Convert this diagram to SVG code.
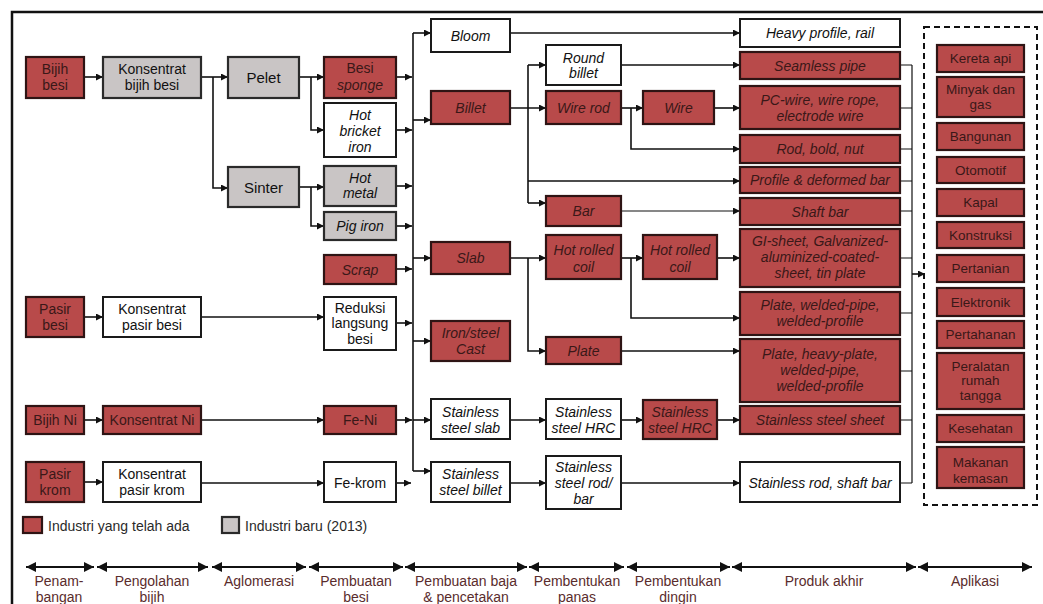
<svg xmlns="http://www.w3.org/2000/svg" width="1043" height="604" viewBox="0 0 1043 604">
<style>
.r{fill:#b84a4a;stroke:#2e1414;stroke-width:2.2}
.g{fill:#c9c5c5;stroke:#2a2a2a;stroke-width:2.2}
.w{fill:#fff;stroke:#1a1a1a;stroke-width:2}
text{font-family:"Liberation Sans",Arial,sans-serif;font-size:14px;text-anchor:middle;fill:#111}
.rt{fill:#3a1818}
.i{font-style:italic}
.ap{font-size:13.5px}
.lab{font-size:14px;fill:#5a2c2c}
.c path{fill:none;stroke:#111;stroke-width:1.6}
.c path.a{marker-end:url(#ah)}
.tl path{fill:none;stroke:#111;stroke-width:2;marker-start:url(#tb);marker-end:url(#tb)}
</style>
<defs>
<marker id="ah" markerUnits="userSpaceOnUse" markerWidth="8" markerHeight="8" refX="7" refY="3.5" orient="auto"><path d="M0,0 L7,3.5 L0,7 z" fill="#111"/></marker>
<marker id="tb" markerUnits="userSpaceOnUse" markerWidth="11" markerHeight="11" refX="10" refY="5" orient="auto-start-reverse"><path d="M0,0 L10,5 L0,10 z" fill="#111"/></marker>
</defs>
<rect width="1043" height="604" fill="#fff"/>
<path d="M12,604 V12 H1043" fill="none" stroke="#111" stroke-width="2.5"/>

<g class="c" id="connectors">
<path class="a" d="M84,77 H103"/>
<path class="a" d="M201,77 H228"/>
<path class="a" d="M213,77 V188 H228"/>
<path class="a" d="M299,77 H324"/>
<path class="a" d="M311,77 V130 H324"/>
<path class="a" d="M299,187 H324"/>
<path class="a" d="M311,187 V226 H324"/>
<path class="a" d="M84,317 H103"/>
<path class="a" d="M201,317 H324"/>
<path class="a" d="M84,420 H103"/>
<path class="a" d="M201,420 H324"/>
<path class="a" d="M84,482 H103"/>
<path class="a" d="M201,483 H324"/>
<path class="a" d="M396,77 H412"/>
<path class="a" d="M396,130 H412"/>
<path class="a" d="M396,186 H412"/>
<path class="a" d="M396,226 H412"/>
<path class="a" d="M396,269 H412"/>
<path class="a" d="M396,323 H412"/>
<path class="a" d="M396,420 H412"/>
<path class="a" d="M396,483 H411"/>
<path d="M413,33 V471"/>
<path class="a" d="M413,33 H431"/>
<path class="a" d="M413,120 H431"/>
<path class="a" d="M413,258 H431"/>
<path class="a" d="M413,341 H431"/>
<path class="a" d="M413,420 H431"/>
<path class="a" d="M413,471 H431"/>
<path class="a" d="M510,33 H740"/>
<path class="a" d="M510,108 H546"/>
<path d="M528,65 V203"/>
<path class="a" d="M528,65 H546"/>
<path class="a" d="M528,181 H740"/>
<path class="a" d="M528,203 H546"/>
<path class="a" d="M621,65 H740"/>
<path class="a" d="M621,108 H643"/>
<path class="a" d="M631,108 V149 H740"/>
<path class="a" d="M714,108 H740"/>
<path class="a" d="M621,211 H740" style="stroke-width:1.1"/>
<path class="a" d="M510,258 H546"/>
<path class="a" d="M528,258 V351 H546"/>
<path class="a" d="M621,258 H643"/>
<path class="a" d="M631,258 V318 H740"/>
<path class="a" d="M717,258 H740"/>
<path class="a" d="M621,351 H740"/>
<path class="a" d="M510,420 H546"/>
<path class="a" d="M621,420 H643"/>
<path class="a" d="M717,420 H740"/>
<path class="a" d="M510,483 H546"/>
<path class="a" d="M621,483 H740"/>
<path d="M900,65 H912 M900,108 H912 M900,149 H912 M900,181 H912 M900,211 H912 M900,258 H912 M900,313 H912 M900,371 H912 M900,420 H912 M900,483 H912 M912,65 V483" style="stroke-width:1.2"/>
<path class="a" d="M912,274 H925"/>
</g>

<g id="bijih-besi"><rect class="r" x="26" y="57" width="58" height="41"/><text class="rt" x="55" y="74">Bijih</text><text class="rt" x="55" y="90">besi</text></g>
<g id="pasir-besi"><rect class="r" x="26" y="297" width="58" height="40"/><text class="rt" x="55" y="313.5">Pasir</text><text class="rt" x="55" y="329.5">besi</text></g>
<g id="bijih-ni"><rect class="r" x="26" y="406" width="58" height="28"/><text class="rt" x="55" y="425">Bijih Ni</text></g>
<g id="pasir-krom"><rect class="r" x="26" y="462" width="58" height="40"/><text class="rt" x="55" y="478.5">Pasir</text><text class="rt" x="55" y="494.5">krom</text></g>

<g id="konsentrat-bijih-besi"><rect class="g" x="103" y="57" width="98" height="41"/><text x="152" y="73.5">Konsentrat</text><text x="152" y="89.5">bijih besi</text></g>
<g id="konsentrat-pasir-besi"><rect class="w" x="103" y="297" width="98" height="40"/><text x="152" y="313.5">Konsentrat</text><text x="152" y="329.5">pasir besi</text></g>
<g id="konsentrat-ni"><rect class="r" x="103" y="406" width="98" height="28"/><text class="rt" x="152" y="425">Konsentrat Ni</text></g>
<g id="konsentrat-pasir-krom"><rect class="w" x="103" y="462" width="98" height="40"/><text x="152" y="478.5">Konsentrat</text><text x="152" y="494.5">pasir krom</text></g>

<g id="pelet"><rect class="g" x="228" y="57" width="71" height="41"/><text x="263.5" y="82.5" style="font-size:15px">Pelet</text></g>
<g id="sinter"><rect class="g" x="228" y="167" width="71" height="40"/><text x="263.5" y="192.5" style="font-size:15px">Sinter</text></g>

<g id="besi-sponge"><rect class="r" x="324" y="57" width="72" height="41"/><text class="rt" x="360" y="72.5">Besi</text><text class="rt i" x="360" y="89.5">sponge</text></g>
<g id="hot-bricket-iron"><rect class="w" x="324" y="103" width="72" height="54"/><text class="i" x="360" y="119.5">Hot</text><text class="i" x="360" y="135.5">bricket</text><text class="i" x="360" y="151.5">iron</text></g>
<g id="hot-metal"><rect class="g" x="324" y="166" width="72" height="40"/><text class="i" x="360" y="182.5">Hot</text><text class="i" x="360" y="198">metal</text></g>
<g id="pig-iron"><rect class="g" x="324" y="212" width="72" height="28"/><text class="i" x="360" y="231">Pig iron</text></g>
<g id="scrap"><rect class="r" x="324" y="255" width="72" height="29"/><text class="rt i" x="360" y="274.5">Scrap</text></g>
<g id="reduksi"><rect class="w" x="324" y="297" width="72" height="53"/><text x="360" y="312.5">Reduksi</text><text x="360" y="328">langsung</text><text x="360" y="344">besi</text></g>
<g id="fe-ni"><rect class="r" x="324" y="406" width="72" height="28"/><text class="rt" x="360" y="425">Fe-Ni</text></g>
<g id="fe-krom"><rect class="w" x="324" y="462" width="72" height="40"/><text x="360" y="487.5">Fe-krom</text></g>

<g id="bloom"><rect class="w" x="431" y="19" width="79" height="33"/><text class="i" x="470.5" y="40.5">Bloom</text></g>
<g id="billet"><rect class="r" x="431" y="91" width="79" height="33"/><text class="rt i" x="470.5" y="112.5">Billet</text></g>
<g id="slab"><rect class="r" x="431" y="242" width="79" height="32"/><text class="rt i" x="470.5" y="263">Slab</text></g>
<g id="iron-steel-cast"><rect class="r" x="431" y="321" width="79" height="40"/><text class="rt i" x="470.5" y="337.5">Iron/steel</text><text class="rt i" x="470.5" y="354">Cast</text></g>
<g id="ss-slab"><rect class="w" x="431" y="399" width="79" height="40"/><text class="i" x="470.5" y="416.5">Stainless</text><text class="i" x="470.5" y="433">steel slab</text></g>
<g id="ss-billet"><rect class="w" x="431" y="462" width="79" height="40"/><text class="i" x="470.5" y="478.5">Stainless</text><text class="i" x="470.5" y="495">steel billet</text></g>

<g id="round-billet"><rect class="w" x="546" y="45" width="75" height="40"/><text class="i" x="583.5" y="62.5">Round</text><text class="i" x="583.5" y="78">billet</text></g>
<g id="wire-rod"><rect class="r" x="546" y="91" width="75" height="33"/><text class="rt i" x="583.5" y="112.5">Wire rod</text></g>
<g id="bar"><rect class="r" x="546" y="196" width="75" height="30"/><text class="rt i" x="583.5" y="216">Bar</text></g>
<g id="hot-rolled-coil-1"><rect class="r" x="546" y="235" width="75" height="44"/><text class="rt i" x="583.5" y="254.5">Hot rolled</text><text class="rt i" x="583.5" y="271.5">coil</text></g>
<g id="plate"><rect class="r" x="546" y="337" width="75" height="27"/><text class="rt i" x="583.5" y="355.5">Plate</text></g>
<g id="ss-hrc-1"><rect class="w" x="546" y="399" width="75" height="40"/><text class="i" x="583.5" y="416.5">Stainless</text><text class="i" x="583.5" y="433">steel HRC</text></g>
<g id="ss-rod-bar"><rect class="w" x="546" y="456" width="75" height="53"/><text class="i" x="583.5" y="471.5">Stainless</text><text class="i" x="583.5" y="487.5">steel rod/</text><text class="i" x="583.5" y="503.5">bar</text></g>

<g id="wire"><rect class="r" x="643" y="91" width="71" height="33"/><text class="rt i" x="678.5" y="112.5">Wire</text></g>
<g id="hot-rolled-coil-2"><rect class="r" x="643" y="235" width="74" height="44"/><text class="rt i" x="680" y="254.5">Hot rolled</text><text class="rt i" x="680" y="271.5">coil</text></g>
<g id="ss-hrc-2"><rect class="r" x="643" y="400" width="74" height="39"/><text class="rt i" x="680" y="416.5">Stainless</text><text class="rt i" x="680" y="433">steel HRC</text></g>

<g id="heavy-profile"><rect class="w" x="740" y="19" width="160" height="28"/><text class="i" x="820" y="38">Heavy profile, rail</text></g>
<g id="seamless-pipe"><rect class="r" x="740" y="52" width="160" height="27"/><text class="rt i" x="820" y="70.5">Seamless pipe</text></g>
<g id="pc-wire"><rect class="r" x="740" y="86" width="160" height="43"/><text class="rt i" x="820" y="104.5">PC-wire, wire rope,</text><text class="rt i" x="820" y="121">electrode wire</text></g>
<g id="rod-bold-nut"><rect class="r" x="740" y="135" width="160" height="28"/><text class="rt i" x="820" y="154">Rod, bold, nut</text></g>
<g id="profile-deformed"><rect class="r" x="740" y="167" width="160" height="26"/><text class="rt i" x="820" y="185">Profile &amp; deformed bar</text></g>
<g id="shaft-bar"><rect class="r" x="740" y="198" width="160" height="27"/><text class="rt i" x="820" y="216.5">Shaft bar</text></g>
<g id="gi-sheet"><rect class="r" x="740" y="229" width="160" height="58"/><text class="rt i" x="820" y="245.5">GI-sheet, Galvanized-</text><text class="rt i" x="820" y="261.5">aluminized-coated-</text><text class="rt i" x="820" y="277.5">sheet, tin plate</text></g>
<g id="plate-welded"><rect class="r" x="740" y="292" width="160" height="43"/><text class="rt i" x="820" y="309.5">Plate, welded-pipe,</text><text class="rt i" x="820" y="326">welded-profile</text></g>
<g id="plate-heavy"><rect class="r" x="740" y="339" width="160" height="63"/><text class="rt i" x="820" y="358.5">Plate, heavy-plate,</text><text class="rt i" x="820" y="374.5">welded-pipe,</text><text class="rt i" x="820" y="390.5">welded-profile</text></g>
<g id="ss-sheet"><rect class="r" x="740" y="406" width="160" height="28"/><text class="rt i" x="820" y="425">Stainless steel sheet</text></g>
<g id="ss-rod-shaft"><rect class="w" x="740" y="462" width="160" height="40"/><text class="i" x="820" y="487.5">Stainless rod, shaft bar</text></g>

<g id="aplikasi">
<rect x="924" y="27" width="113" height="478" fill="none" stroke="#111" stroke-width="2" stroke-dasharray="6,4"/>
<g id="kereta-api"><rect class="r" x="937" y="45" width="87" height="27"/><text class="rt ap" x="980.5" y="63">Kereta api</text></g>
<g id="minyak-gas"><rect class="r" x="937" y="77" width="87" height="40"/><text class="rt ap" x="980.5" y="94">Minyak dan</text><text class="rt ap" x="980.5" y="108.5">gas</text></g>
<g id="bangunan"><rect class="r" x="937" y="123" width="87" height="27"/><text class="rt ap" x="980.5" y="141">Bangunan</text></g>
<g id="otomotif"><rect class="r" x="937" y="157" width="87" height="26"/><text class="rt ap" x="980.5" y="174.5">Otomotif</text></g>
<g id="kapal"><rect class="r" x="937" y="189" width="87" height="27"/><text class="rt ap" x="980.5" y="207">Kapal</text></g>
<g id="konstruksi"><rect class="r" x="937" y="222" width="87" height="26"/><text class="rt ap" x="980.5" y="239.5">Konstruksi</text></g>
<g id="pertanian"><rect class="r" x="937" y="255" width="87" height="27"/><text class="rt ap" x="980.5" y="273">Pertanian</text></g>
<g id="elektronik"><rect class="r" x="937" y="288" width="87" height="28"/><text class="rt ap" x="980.5" y="306.5">Elektronik</text></g>
<g id="pertahanan"><rect class="r" x="937" y="321" width="87" height="27"/><text class="rt ap" x="980.5" y="339">Pertahanan</text></g>
<g id="peralatan"><rect class="r" x="937" y="353" width="87" height="56"/><text class="rt ap" x="980.5" y="370.5">Peralatan</text><text class="rt ap" x="980.5" y="385">rumah</text><text class="rt ap" x="980.5" y="400">tangga</text></g>
<g id="kesehatan"><rect class="r" x="937" y="415" width="87" height="27"/><text class="rt ap" x="980.5" y="433">Kesehatan</text></g>
<g id="makanan"><rect class="r" x="937" y="447" width="87" height="41"/><text class="rt ap" x="980.5" y="466.5">Makanan</text><text class="rt ap" x="980.5" y="482.5">kemasan</text></g>
</g>

<g id="legend">
<rect class="r" x="23" y="517" width="19" height="16"/><text x="48" y="530.5" style="text-anchor:start;fill:#2a2a2a">Industri yang telah ada</text>
<rect class="g" x="222" y="517" width="17" height="16"/><text x="245" y="530.5" style="text-anchor:start;fill:#2a2a2a">Industri baru (2013)</text>
</g>

<g class="tl" id="timeline">
<path d="M26,567 H94"/>
<path d="M97,567 H208"/>
<path d="M212,567 H306"/>
<path d="M309,567 H403"/>
<path d="M405,567 H527"/>
<path d="M529,567 H624"/>
<path d="M627,567 H730"/>
<path d="M732,567 H916"/>
<path d="M918,567 H1032"/>
</g>
<g id="timeline-labels">
<text class="lab" x="59" y="586">Penam-</text><text class="lab" x="59" y="602">bangan</text>
<text class="lab" x="152" y="586">Pengolahan</text><text class="lab" x="152" y="602">bijih</text>
<text class="lab" x="259" y="586">Aglomerasi</text>
<text class="lab" x="356" y="586">Pembuatan</text><text class="lab" x="356" y="602">besi</text>
<text class="lab" x="466" y="586">Pembuatan baja</text><text class="lab" x="466" y="602">&amp; pencetakan</text>
<text class="lab" x="577" y="586">Pembentukan</text><text class="lab" x="577" y="602">panas</text>
<text class="lab" x="678" y="586">Pembentukan</text><text class="lab" x="678" y="602">dingin</text>
<text class="lab" x="824" y="586">Produk akhir</text>
<text class="lab" x="975" y="586">Aplikasi</text>
</g>
</svg>
